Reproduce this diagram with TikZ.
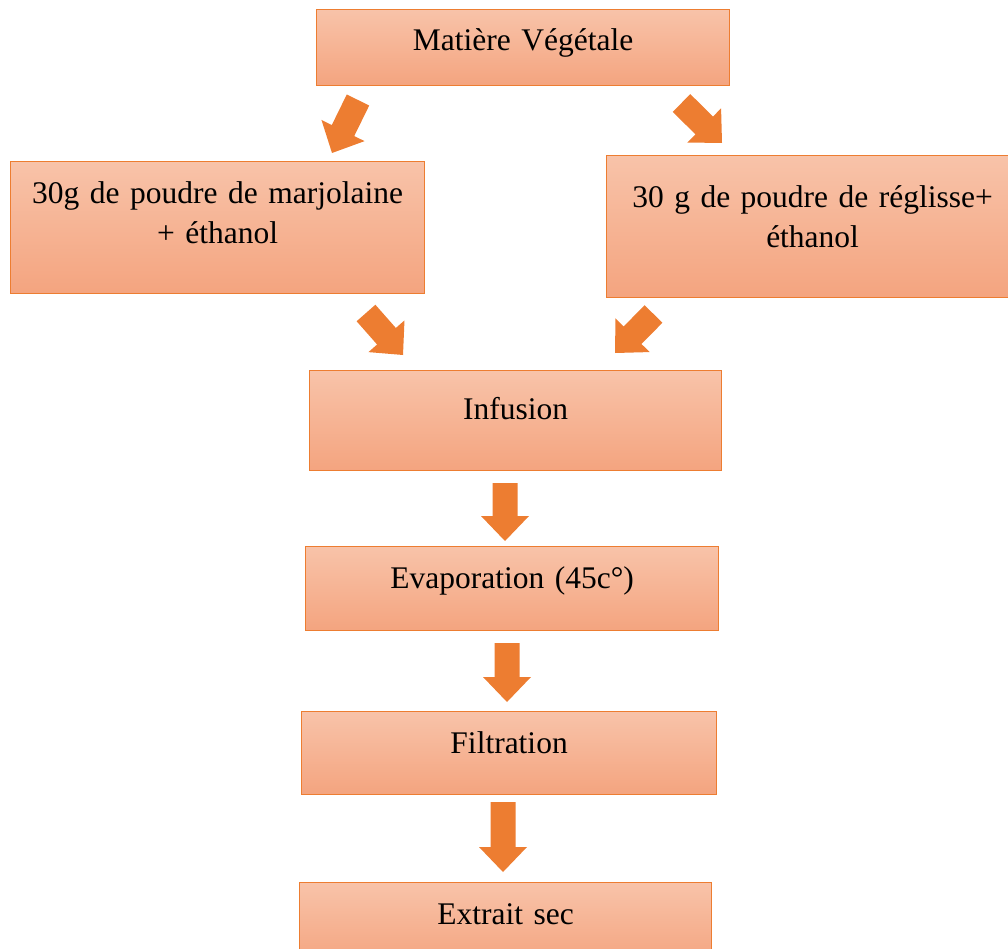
\documentclass[tikz,border=0pt]{standalone}
\usepackage{fontspec}
\setmainfont{Liberation Serif}
\usetikzlibrary{calc}

\definecolor{boxtop}{HTML}{F8C3A9}
\definecolor{boxbot}{HTML}{F4A47F}
\definecolor{boxline}{HTML}{ED7D31}

\tikzset{
  stepbox/.style={draw=boxline, line width=1.2pt, top color=boxtop, bottom color=boxbot,
    inner sep=0pt, anchor=north west, align=center, font=\fontsize{31.5}{40}\selectfont},
}

% block arrow from tail #1 to tip #2
\newcommand{\blockarrow}[2]{%
  \coordinate (#1-neck) at ($(#2)!25pt!(#1)$);
  \fill[boxline] ($(#1)!12.5pt!90:(#2)$) -- ($(#1-neck)!12.5pt!90:(#2)$) -- ($(#1-neck)!24pt!90:(#2)$) -- (#2)
    -- ($(#1-neck)!24pt!-90:(#2)$) -- ($(#1-neck)!12.5pt!-90:(#2)$) -- ($(#1)!12.5pt!-90:(#2)$) -- cycle;
}

\begin{document}
\begin{tikzpicture}[x=1pt,y=-1pt]
\useasboundingbox (0,0) rectangle (1008,949);
\clip (0,0) rectangle (1008,949);

\node[stepbox, text width=413pt, text height=41pt, text depth=35pt] (veg) at (316,9) {Matière Végétale};
\node[stepbox, text width=414pt, text height=42pt, text depth=90pt] (marj) at (10,161) {30g de poudre de marjolaine\\+ éthanol};
\node[stepbox, text width=412pt, text height=52pt, text depth=90pt] (regl) at (606,155) {30 g de poudre de réglisse+\\éthanol};
\node[stepbox, text width=412pt, text height=49pt, text depth=51pt] (inf) at (309,370) {Infusion};
\node[stepbox, text width=413pt, text height=42pt, text depth=42pt] (evap) at (305,546) {Evaporation (45c°)};
\node[stepbox, text width=415pt, text height=42pt, text depth=41pt] (filt) at (301,711) {Filtration};
\node[stepbox, text width=412pt, text height=42pt, text depth=40pt] (extr) at (299,882) {Extrait sec};

\coordinate (a1) at (358,100);   \coordinate (b1) at (332,153);
\coordinate (a2) at (681.5,103); \coordinate (b2) at (722,143);
\coordinate (a3) at (366,313);   \coordinate (b3) at (403,355);
\coordinate (a4) at (653.5,314); \coordinate (b4) at (615,353);
\coordinate (a5) at (505,483);   \coordinate (b5) at (505,541);
\coordinate (a6) at (507,643);   \coordinate (b6) at (507,702);
\coordinate (a7) at (503,802);   \coordinate (b7) at (503,872);

\blockarrow{a1}{b1}
\blockarrow{a2}{b2}
\blockarrow{a3}{b3}
\blockarrow{a4}{b4}
\blockarrow{a5}{b5}
\blockarrow{a6}{b6}
\blockarrow{a7}{b7}

\end{tikzpicture}
\end{document}
